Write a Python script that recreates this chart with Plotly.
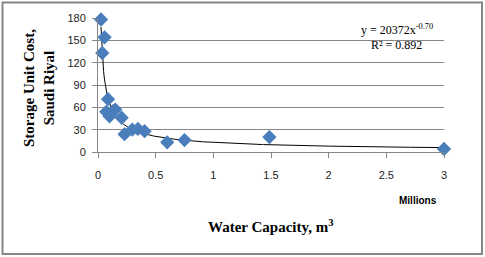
import numpy as np
import plotly.graph_objects as go

# Data (x in millions of m3, y in Saudi Riyal)
capacity_millions = [0.026, 0.037, 0.057, 0.072, 0.087, 0.10, 0.13, 0.15, 0.205, 0.23, 0.297, 0.346, 0.404, 0.60, 0.75, 1.486, 3.0]
unit_cost = [178, 133, 154, 54, 71, 48, 55, 57, 46, 24, 30, 31, 28, 13, 16, 20, 4]

x_ticks = [0, 0.5, 1, 1.5, 2, 2.5, 3]
x_tick_labels = ["0", "0.5", "1", "1.5", "2", "2.5", "3"]
y_ticks = [0, 30, 60, 90, 120, 150, 180]

# Power trendline (least squares in log-log space, like Excel)
lx = np.log(np.array(capacity_millions))
ly = np.log(np.array(unit_cost))
b, ln_a = np.polyfit(lx, ly, 1)
xs = np.linspace(min(capacity_millions), max(capacity_millions), 400)
ys = np.exp(ln_a) * xs ** b

W, H = 485, 257
L, R, T, B = 98, 41, 18, 105

fig = go.Figure()
fig.add_trace(go.Scatter(x=xs, y=ys, mode="lines", cliponaxis=False,
                         line=dict(color="black", width=1), hoverinfo="skip"))
fig.add_trace(go.Scatter(x=capacity_millions, y=unit_cost, mode="markers", cliponaxis=False,
                         marker=dict(symbol="diamond", size=11, color="#4A7EBB",
                                     line=dict(width=0))))

grid = "#868686"
fig.update_layout(
    width=W, height=H,
    margin=dict(l=L, r=R, t=T, b=B, autoexpand=False),
    paper_bgcolor="white", plot_bgcolor="white",
    showlegend=False,
    xaxis=dict(range=[0, 3], tickvals=x_ticks, ticktext=x_tick_labels,
               showgrid=False, zeroline=False, showline=True, linecolor=grid, linewidth=1,
               ticks="outside", ticklen=5, tickcolor=grid,
               tickfont=dict(family="Liberation Sans, Arial", size=11, color="#222"),
               ticklabelstandoff=8),
    yaxis=dict(range=[0, 180], tickvals=y_ticks,
               showgrid=True, gridcolor=grid, gridwidth=1, zeroline=False,
               showline=True, linecolor=grid, linewidth=1,
               ticks="outside", ticklen=5, tickcolor=grid,
               tickfont=dict(family="Liberation Sans, Arial", size=11, color="#222"),
               ticklabelstandoff=4),
)

pw = W - L - R
ph = H - T - B
def px(xpix):
    return (xpix - L) / pw
def py(ypix):
    return 1 - (ypix - T) / ph

fig.add_shape(type="rect", xref="paper", yref="paper",
              x0=px(2.5), x1=px(482), y0=py(2.5), y1=py(254),
              line=dict(color="#868686", width=2))

serif = "Liberation Serif, Times New Roman, serif"
common = dict(xref="paper", yref="paper", showarrow=False, xanchor="center", yanchor="middle")
fig.add_annotation(x=px(39), y=py(88),
                   text="<b>Storage Unit Cost,<br>Saudi Riyal</b>", textangle=-90,
                   font=dict(family=serif, size=15, color="black"), **common)
fig.add_annotation(x=px(270), y=py(226),
                   text="<b>Water Capacity, m<sup>3</sup></b>",
                   font=dict(family=serif, size=15, color="black"), **common)
fig.add_annotation(x=px(418), y=py(200),
                   text="<b>Millions</b>",
                   font=dict(family="Liberation Sans, Arial", size=10, color="black"), **common)
fig.add_annotation(x=px(397), y=py(29),
                   text="y = 20372x<sup>-0.70</sup>",
                   font=dict(family=serif, size=12, color="black"), **common)
fig.add_annotation(x=px(396), y=py(45),
                   text="R² = 0.892",
                   font=dict(family=serif, size=12, color="black"), **common)

fig.write_html("out.html", config={"displayModeBar": False},
               post_script="document.body.style.margin='0';document.body.style.padding='0';")
